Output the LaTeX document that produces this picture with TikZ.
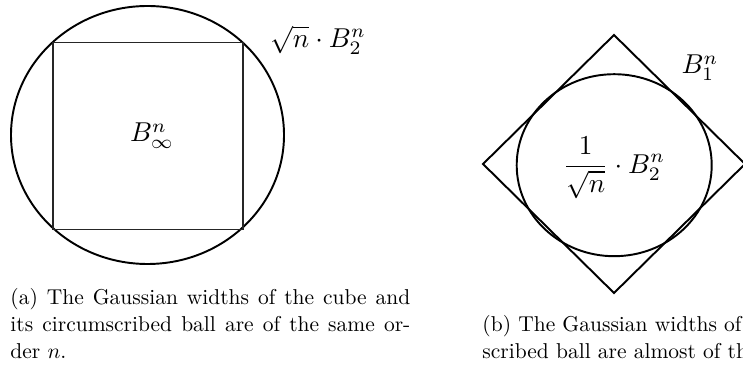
\documentclass[tikz,border=0pt]{standalone}
\usepackage{graphicx}
\tikzset{
  outline/.style={line width=0.9pt, black},
  cubeline/.style={line width=0.6pt, black!85},
  lab/.style={inner sep=0pt, anchor=center},
  captxt/.style={inner sep=0pt, anchor=base west, font=\fontsize{10}{12}\selectfont},
}
\begin{document}
\begin{tikzpicture}[x=0.4651pt,y=-0.4651pt]
\useasboundingbox (0,0) rectangle (743,369);
\clip (0,0) rectangle (743,369);
% (a) cube and circumscribed ball
\draw[outline] (147.5,135) ellipse [x radius=136.5, y radius=129];
\draw[cubeline] (53,42.7) rectangle (243,229.3);
\node[lab] (binf) at (152,136) {\scalebox{1.27}{$B_\infty^n$}};
\node[lab] (l2big) at (318,40) {\scalebox{1.27}{$\sqrt{n}\cdot B_2^n$}};
% (b) cross-polytope and inscribed ball
\draw[outline, line join=miter] (614,35) -- (745,164) -- (614,293) -- (483,164) -- cycle;
\draw[outline] (614.2,165.2) ellipse [x radius=97.5, y radius=91];
\node[lab] (b1) at (700,68) {\scalebox{1.27}{$B_1^n$}};
\node[lab] (l2small) at (614,168) {\scalebox{1.27}{$\displaystyle\frac{1}{\sqrt{n}}\cdot B_2^n$}};
% captions
\node[captxt] (capa1) at (10,304) {\makebox[186pt][s]{(a) The Gaussian widths of the cube and}};
\node[captxt] (capa2) at (10,331) {\makebox[186pt][s]{its circumscribed ball are of the same or-}};
\node[captxt] (capa3) at (10,358) {der $n$.};
\node[captxt] (capb1) at (482,331) {(b) The Gaussian widths of the cross-polytope and its in-};
\node[captxt] (capb2) at (482,358) {scribed ball are almost of the same order.};
\end{tikzpicture}
\end{document}
